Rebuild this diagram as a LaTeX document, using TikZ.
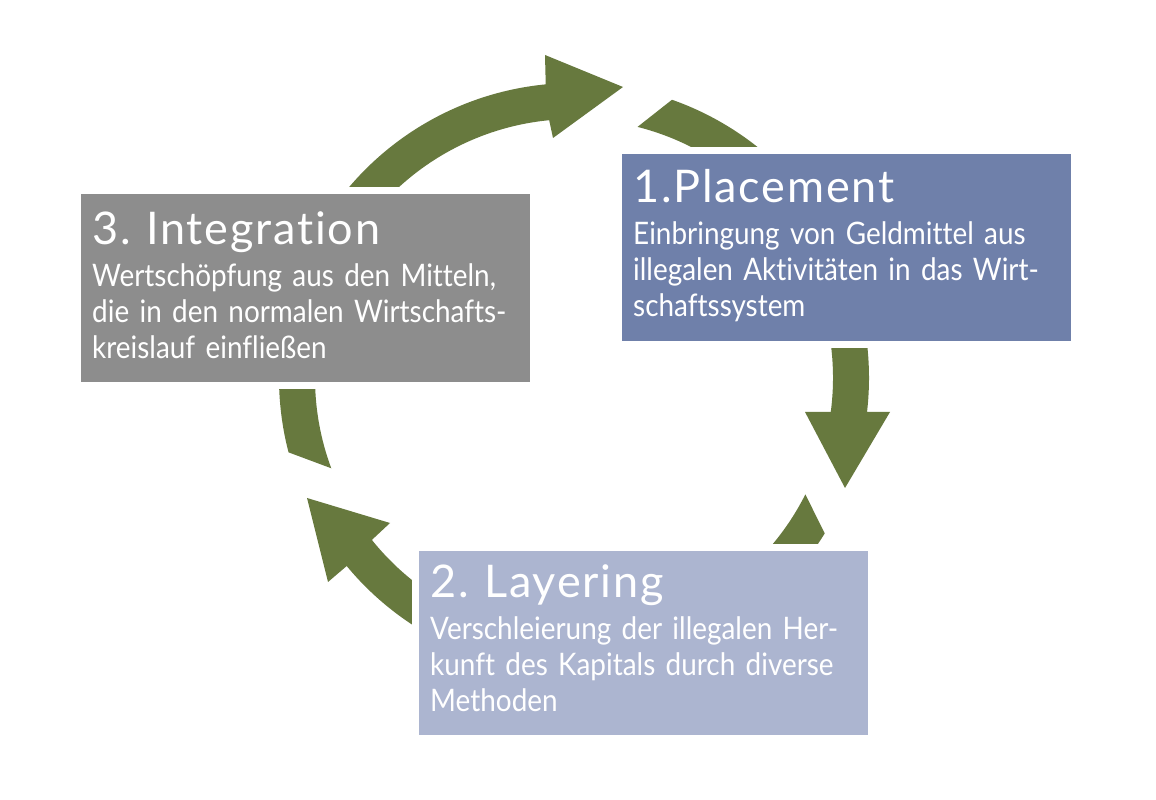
\documentclass[tikz,border=0pt]{standalone}
\usepackage{fontspec}
\setmainfont{Lato}[FakeStretch=0.9, Ligatures=NoCommon]
\newfontfamily\ttlfam{Lato}[LetterSpace=4, Ligatures=NoCommon]
\usetikzlibrary{calc}
\definecolor{arrowgreen}{RGB}{103,121,62}
\definecolor{boxone}{RGB}{111,128,170}
\definecolor{boxtwo}{RGB}{172,181,208}
\definecolor{boxthree}{RGB}{141,141,141}
\newcommand\ttlfont{\ttlfam\fontsize{45}{48}\selectfont}
\begin{document}
\begin{tikzpicture}[x=1pt,y=1pt,
  stagebox/.style={anchor=north west, minimum width=449pt, inner sep=0pt, outer sep=0pt,
    preaction={draw=white, line width=14pt}},
  txt/.style={anchor=base west, text width=470pt, align=left, inner sep=0pt, text=white,
    font=\fontsize{31}{36}\selectfont},
  cyclearrow/.style={fill=arrowgreen}]
\useasboundingbox[fill=white] (0,0) rectangle (1156,800);
\coordinate (C) at (574,422);
% arrow from Integration to Placement
\fill[cyclearrow] ($(C)+(194.6:295)$) arc[start angle=194.6,end angle=95.5,radius=295]
  -- (545,745) -- (623,713) -- (553,662) -- ($(C)+(95.5:259)$)
  arc[start angle=95.5,end angle=200.4,radius=259] -- cycle;
% arrow from Placement to Layering
\fill[cyclearrow] ($(C)+(70.6:295)$) arc[start angle=70.6,end angle=-6.6,radius=295]
  -- (890,388) -- (845,312) -- (805,388) -- ($(C)+(-7.5:259)$)
  arc[start angle=-7.5,end angle=75.8,radius=259] -- cycle;
% arrow from Layering to Integration
\fill[cyclearrow] ($(C)+(-31.8:295)$) arc[start angle=-31.8,end angle=-140.4,radius=295]
  -- (328,218) -- (307,302) -- (390,277) -- ($(C)+(-141.3:259)$)
  arc[start angle=-141.3,end angle=-26.7,radius=259] -- cycle;
% boxes
\node[stagebox, fill=boxone, minimum height=187pt] (p1) at (622,646) {};
\node[stagebox, fill=boxthree, minimum height=188pt] (p3) at (81,606) {};
\node[stagebox, fill=boxtwo, minimum height=184pt] (p2) at (419,249) {};
% texts
\node[txt] (t1) at ($(p1.north west)+(11,-49)$) {{\ttlfont 1.Placement}\\[6pt]
  Einbringung von Geldmittel aus\\ illegalen Aktivitäten in das Wirt-\\ schaftssystem};
\node[txt] (t3) at ($(p3.north west)+(11,-51)$) {{\ttlfont 3. Integration}\\[6pt]
  Wertschöpfung aus den Mitteln,\\ die in den normalen Wirtschafts-\\ kreislauf einfließen};
\node[txt] (t2) at ($(p2.north west)+(11,-47)$) {{\ttlfont 2. Layering}\\[6pt]
  Verschleierung der illegalen Her-\\ kunft des Kapitals durch diverse\\ Methoden};
\end{tikzpicture}
\end{document}
